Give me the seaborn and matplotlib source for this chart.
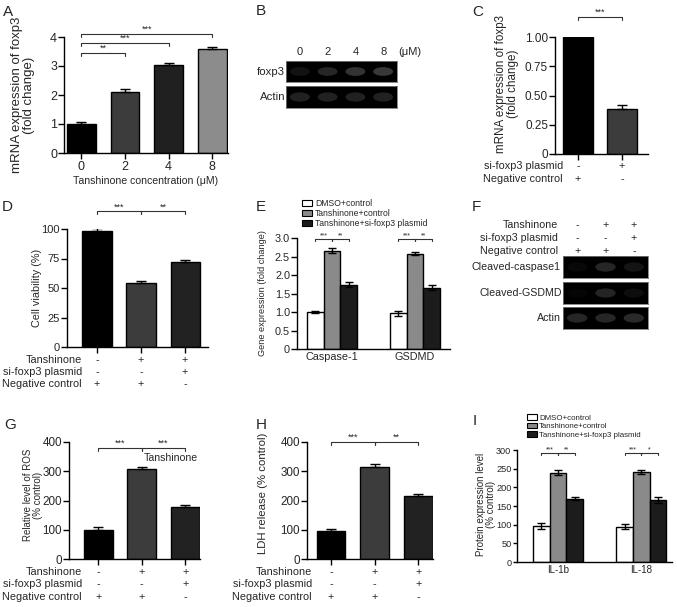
import numpy as np
import pandas as pd
import matplotlib
matplotlib.use('Agg')
import matplotlib.pyplot as plt
import matplotlib.transforms as mtransforms
from matplotlib.patches import Ellipse, Patch
import seaborn as sns

# ---- data ----
a_conc = ['0', '2', '4', '8']
a_mean = [1.00, 2.11, 3.04, 3.57]
a_err = [0.08, 0.09, 0.08, 0.07]

b_lanes = ['0', '2', '4', '8']
b_foxp3 = [0.07, 0.15, 0.20, 0.22]
b_actin = [0.13, 0.13, 0.13, 0.13]

c_groups = ['Negative control', 'si-foxp3 plasmid']
c_mean = [1.00, 0.385]
c_err = [0.025, 0.03]
c_rows = ['si-foxp3 plasmid', 'Negative control']
c_signs = [['-', '+'], ['+', '-']]

treat = ['NC', 'Tanshinone', 'Tanshinone+si']
treat_rows = ['Tanshinone', 'si-foxp3 plasmid', 'Negative control']
treat_signs = [['-', '+', '+'], ['-', '-', '+'], ['+', '+', '-']]

d_mean = [98, 54, 72]
d_err = [2.5, 2, 1.8]

groups3 = ['DMSO+control', 'Tanshinone+control', 'Tanshinone+si-foxp3 plasmid']
e_genes = ['Caspase-1', 'GSDMD']
e_dmso = [1.00, 0.96]
e_tc = [2.66, 2.58]
e_tsi = [1.74, 1.66]
e_dmso_err = [0.04, 0.07]
e_tc_err = [0.06, 0.05]
e_tsi_err = [0.06, 0.06]

f_caspase = [0.03, 0.15, 0.08]
f_gsdmd = [0.02, 0.14, 0.05]
f_actin = [0.15, 0.15, 0.16]

g_mean = [99, 306, 177]
g_err = [10, 8, 8]

h_mean = [97, 316, 216]
h_err = [6, 9, 6]

i_genes = ['IL-1b', 'IL-18']
i_dmso = [97, 95]
i_tc = [239, 241]
i_tsi = [170, 166]
i_dmso_err = [8, 7]
i_tc_err = [7, 6]
i_tsi_err = [5, 9]

W, H = 677, 607
sns.set_style('ticks')
plt.rcParams['font.family'] = ['Liberation Sans', 'DejaVu Sans']

fig = plt.figure(figsize=(W / 100, H / 100), dpi=100)

single_cols = ['#000000', '#3c3c3c', '#202020', '#8c8c8c']
group_cols = ['#ffffff', '#8a8a8a', '#1c1c1c']


def px_ax(box):
    x0, y0, x1, y1 = box
    return fig.add_axes([x0 / W, 1 - y1 / H, (x1 - x0) / W, (y1 - y0) / H])


def ylabel_at(ax, box, text, fs, x_right, y_mid):
    # place the y label by pixel position of its anchor
    x0, y0, x1, y1 = box
    ax.set_ylabel(text, fontsize=fs, linespacing=1.0)
    ax.yaxis.set_label_coords((x_right - x0) / (x1 - x0), (y1 - y_mid) / (y1 - y0))


def style(ax, tick_fs, xticks=True, tick_len=4):
    sns.despine(ax=ax)
    for s in ['left', 'bottom']:
        ax.spines[s].set_linewidth(1.0)
        ax.spines[s].set_color('black')
    ax.tick_params(axis='y', length=tick_len, width=1, labelsize=tick_fs, pad=1, color='black')
    ax.tick_params(axis='x', length=4 if xticks else 0, width=1, labelsize=tick_fs, pad=2, color='black')


def bracket(ax, x1, x2, y, h, text, fs=6.5):
    ax.plot([x1, x1, x2, x2], [y - h, y, y, y - h], color='#333333', lw=0.8, clip_on=False)
    ax.text((x1 + x2) / 2, y, text, ha='center', va='bottom', fontsize=fs, clip_on=False)


def sign_table(ax, rows, signs, ys, label_x, fs=7.8):
    tr = mtransforms.blended_transform_factory(ax.transData, fig.transFigure)
    for row, sg, y in zip(rows, signs, ys):
        fig.text(label_x / W, 1 - y / H, row, ha='right', va='center', fontsize=fs)
        for i, s in enumerate(sg):
            ax.text(i, 1 - y / H, s, transform=tr, ha='center', va='center', fontsize=fs)


def single_bars(ax, cats, mean, err, cols, width):
    sns.barplot(x=cats, y=mean, hue=cats, palette=cols, legend=False, width=width,
                edgecolor='black', linewidth=1, ax=ax)
    ax.errorbar(np.arange(len(cats)), mean, yerr=[np.zeros(len(err)), err], fmt='none',
                ecolor='black', elinewidth=1, capsize=3.5, capthick=1)


def group_bars(ax, genes, means, errs):
    df = pd.DataFrame({
        'gene': genes * 3,
        'group': np.repeat(groups3, len(genes)),
        'value': np.concatenate(means),
    })
    sns.barplot(data=df, x='gene', y='value', hue='group', order=genes, hue_order=groups3,
                palette=group_cols, width=0.6, edgecolor='black', linewidth=1,
                legend=False, errorbar=None, ax=ax)
    for k, (m, e) in enumerate(zip(means, errs)):
        ax.errorbar(np.arange(len(genes)) + (k - 1) * 0.2, m, yerr=e, fmt='none',
                    ecolor='black', elinewidth=1, capsize=3, capthick=1)


def group_legend(x, y, fs):
    handles = [Patch(facecolor=c, edgecolor='black', linewidth=0.8) for c in group_cols]
    fig.legend(handles, groups3, loc='upper left', bbox_to_anchor=(x / W, 1 - y / H),
               frameon=False, fontsize=fs, handlelength=1.2, handleheight=0.75,
               handletextpad=0.3, labelspacing=0.12, borderpad=0, borderaxespad=0)


def blot(box, bands):
    ax = px_ax(box)
    ax.set_facecolor('black')
    ax.set_xlim(-0.5, len(bands) - 0.5)
    ax.set_ylim(0, 1)
    ax.set_xticks([])
    ax.set_yticks([])
    for s in ax.spines.values():
        s.set_color('#777777')
        s.set_linewidth(0.6)
    for i, v in enumerate(bands):
        ax.add_patch(Ellipse((i, 0.5), 0.72, 0.42, color=str(v), lw=0))
    return ax


# ---- A ----
box = (64, 37, 228, 153)
ax = px_ax(box)
single_bars(ax, a_conc, a_mean, a_err, single_cols, 0.66)
ax.set_xlim(-0.4, 3.36)
ax.set_ylim(0, 4)
ax.set_yticks([0, 1, 2, 3, 4])
style(ax, 9)
ylabel_at(ax, box, 'mRNA expression of foxp3\n(fold change)', 9.5, 35, 95)
ax.set_xlabel('Tanshinone concentration (\u03bcM)', fontsize=7.6, labelpad=2)
bracket(ax, 0, 1, 3.45, 0.1, '**')
bracket(ax, 0, 2, 3.79, 0.1, '***')
bracket(ax, 0, 3, 4.10, 0.1, '***')

# ---- B ----
bax = blot((286, 61, 397, 82), b_foxp3)
blot((286, 86, 397, 108), b_actin)
trb = mtransforms.blended_transform_factory(bax.transData, fig.transFigure)
for i, lab in enumerate(b_lanes):
    bax.text(i, 1 - 52 / H, lab, transform=trb, ha='center', va='center', fontsize=8)
fig.text(410 / W, 1 - 52 / H, '(\u03bcM)', ha='center', va='center', fontsize=8)
fig.text(285 / W, 1 - 72 / H, 'foxp3', ha='right', va='center', fontsize=8.2)
fig.text(285 / W, 1 - 97 / H, 'Actin', ha='right', va='center', fontsize=8.2)

# ---- C ----
box = (555, 37, 648, 154)
ax = px_ax(box)
single_bars(ax, c_groups, c_mean, c_err, single_cols[:2], 0.68)
ax.set_xlim(-0.52, 1.59)
ax.set_ylim(0, 1.0)
ax.set_yticks([0, 0.25, 0.5, 0.75, 1.0])
ax.set_yticklabels(['0', '0.25', '0.50', '0.75', '1.00'])
ax.set_xticklabels([])
style(ax, 8.5)
ylabel_at(ax, box, 'mRNA expression of foxp3\n(fold change)', 8.4, 519, 84)
bracket(ax, 0, 1, 1.17, 0.025, '***')
sign_table(ax, c_rows, c_signs, [166, 179], 563)

# ---- D ----
box = (67, 229, 208, 347)
ax = px_ax(box)
single_bars(ax, treat, d_mean, d_err, single_cols[:2] + ['#222222'], 0.66)
ax.set_xlim(-0.68, 2.52)
ax.set_ylim(0, 100)
ax.set_yticks([0, 25, 50, 75, 100])
ax.set_xticklabels([])
style(ax, 8)
ylabel_at(ax, box, 'Cell viability (%)', 7.8, 42, 288)
bracket(ax, 0, 1, 115, 2.5, '***')
bracket(ax, 1, 2, 115, 2.5, '**')
sign_table(ax, treat_rows, treat_signs, [360, 372, 384], 82)

# ---- E ----
box = (297, 238, 450, 349)
ax = px_ax(box)
group_bars(ax, e_genes, [e_dmso, e_tc, e_tsi], [e_dmso_err, e_tc_err, e_tsi_err])
ax.set_xlim(-0.42, 1.42)
ax.set_ylim(0, 3.0)
ax.set_yticks(np.arange(0, 3.01, 0.5))
ax.set_yticklabels(['0', '0.5', '1.0', '1.5', '2.0', '2.5', '3.0'])
style(ax, 7.8, xticks=False)
ax.set_xlabel('')
ylabel_at(ax, box, 'Gene expression (fold change)', 6.6, 267, 293)
for g in range(2):
    bracket(ax, g - 0.2, g, 2.97, 0.05, '***', fs=5)
    bracket(ax, g, g + 0.2, 2.97, 0.05, '**', fs=5)
group_legend(302, 199, 6.2)

# ---- F ----
fax = blot((563, 256, 648, 278), f_caspase)
blot((563, 282, 648, 304), f_gsdmd)
blot((563, 307, 648, 329), f_actin)
sign_table(fax, treat_rows, treat_signs, [225, 238, 251], 558, fs=7.7)
fig.text(561 / W, 1 - 267 / H, 'Cleaved-caspase1', ha='right', va='center', fontsize=7.7)
fig.text(562 / W, 1 - 293 / H, 'Cleaved-GSDMD', ha='right', va='center', fontsize=7.7)
fig.text(561 / W, 1 - 318 / H, 'Actin', ha='right', va='center', fontsize=7.7)

# ---- G ----
box = (69, 442, 200, 559)
ax = px_ax(box)
single_bars(ax, treat, g_mean, g_err, single_cols[:2] + ['#222222'], 0.66)
ax.set_xlim(-0.67, 2.34)
ax.set_ylim(0, 400)
ax.set_yticks([0, 100, 200, 300, 400])
ax.set_xticklabels([])
style(ax, 8.4)
ylabel_at(ax, box, 'Relative level of ROS\n(% control)', 7, 43, 495)
bracket(ax, 0, 1, 380, 10, '***')
bracket(ax, 1, 2, 380, 10, '***')
ax.text(1.68, 345, 'Tanshinone', ha='center', va='center', fontsize=7.6)
sign_table(ax, treat_rows, treat_signs, [572, 584, 597], 82)

# ---- H ----
box = (307, 442, 433, 559)
ax = px_ax(box)
single_bars(ax, treat, h_mean, h_err, single_cols[:2] + ['#222222'], 0.66)
ax.set_xlim(-0.55, 2.34)
ax.set_ylim(0, 400)
ax.set_yticks([0, 100, 200, 300, 400])
ax.set_xticklabels([])
style(ax, 8.4)
ylabel_at(ax, box, 'LDH release (% control)', 8.2, 268, 493)
bracket(ax, 0, 1, 400, 10, '***')
bracket(ax, 1, 2, 400, 10, '**')
sign_table(ax, treat_rows, treat_signs, [572, 584, 597], 312)

# ---- I ----
box = (517, 450, 672, 562)
ax = px_ax(box)
group_bars(ax, i_genes, [i_dmso, i_tc, i_tsi], [i_dmso_err, i_tc_err, i_tsi_err])
ax.set_xlim(-0.49, 1.37)
ax.set_ylim(0, 300)
ax.set_yticks(np.arange(0, 301, 50))
style(ax, 6.6, xticks=False, tick_len=3)
ax.tick_params(axis='x', labelsize=7)
ax.set_xlabel('')
ylabel_at(ax, box, 'Protein expression level\n(% control)', 7, 496, 504)
for g, last in zip(range(2), ['**', '*']):
    bracket(ax, g - 0.2, g, 292, 5, '***', fs=5)
    bracket(ax, g, g + 0.2, 292, 5, last, fs=5)
group_legend(527, 414, 5.7)

# ---- panel letters ----
for lab, x, y in [('A', 3, 12), ('B', 256, 11), ('C', 472, 12), ('D', 2, 207), ('E', 256, 207),
                  ('F', 472, 207), ('G', 4, 425), ('H', 256, 425), ('I', 473, 421)]:
    fig.text(x / W, 1 - y / H, lab, ha='left', va='center', fontsize=11)

fig.savefig('out.png', dpi=100)
